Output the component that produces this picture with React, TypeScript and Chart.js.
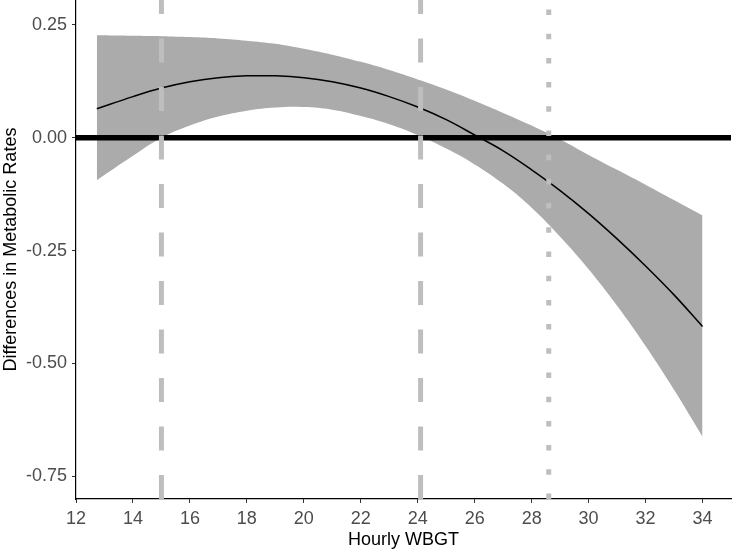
import React, { useEffect, useRef } from 'react';
import { Chart, registerables } from 'chart.js';

Chart.register(...registerables);

// Hourly WBGT values where the fitted curve and its confidence band were read
const wbgt = [12.73, 14, 15, 16, 17, 18, 19, 20, 21, 22, 23, 24, 25, 26, 27, 28, 29, 30, 31, 32, 33, 34];
// Fitted difference in metabolic rates
const fit = [0.064, 0.091, 0.110, 0.124, 0.133, 0.137, 0.137, 0.133, 0.124, 0.110, 0.091, 0.068, 0.040, 0.006, -0.029, -0.071, -0.117, -0.168, -0.224, -0.284, -0.348, -0.418];
// Upper confidence limit
const upper = [0.227, 0.226, 0.225, 0.223, 0.220, 0.215, 0.208, 0.197, 0.184, 0.168, 0.150, 0.129, 0.107, 0.082, 0.055, 0.027, -0.004, -0.038, -0.071, -0.104, -0.138, -0.172];
// Lower confidence limit
const lower = [-0.094, -0.040, 0.000, 0.027, 0.047, 0.060, 0.067, 0.068, 0.062, 0.048, 0.030, 0.006, -0.024, -0.059, -0.102, -0.155, -0.219, -0.291, -0.372, -0.461, -0.558, -0.662];

// Reference lines
const dashedLines = [15, 24.1];
const dottedLines = [28.6];
const zeroLine = 0;

// Axes
const xTicks = [12, 14, 16, 18, 20, 22, 24, 26, 28, 30, 32, 34];
const yTicks = [-0.75, -0.5, -0.25, 0, 0.25];
const xMin = 12;
const xMax = 35;
const yMin = -0.8;
const yMax = 0.305;

const FONT = '"Liberation Sans", Arial, Helvetica, sans-serif';

export default function App() {
  const canvasRef = useRef<HTMLCanvasElement | null>(null);

  useEffect(() => {
    const canvas = canvasRef.current;
    if (!canvas) return;
    const pts = (ys: number[]) => wbgt.map((x, i) => ({ x, y: ys[i] }));

    const vline = (v: number, dash: number[]) => ({
      type: 'line' as const,
      data: [{ x: v, y: yMin }, { x: v, y: yMax }],
      borderColor: '#bebebe',
      borderWidth: 5,
      borderDash: dash,
      borderCapStyle: 'butt' as const,
      pointRadius: 0,
      fill: false,
      tension: 0,
    });

    const chart = new Chart(canvas, {
      type: 'line',
      data: {
        datasets: [
          ...dashedLines.map((v) => vline(v, [24, 24.5])),
          ...dottedLines.map((v) => vline(v, [5.5, 18.7])),
          {
            data: [{ x: xMin, y: zeroLine }, { x: xMax, y: zeroLine }],
            borderColor: '#000000',
            borderWidth: 5.5,
            pointRadius: 0,
            fill: false,
            tension: 0,
          },
          {
            data: pts(fit),
            borderColor: '#000000',
            borderWidth: 1.5,
            pointRadius: 0,
            fill: false,
            tension: 0.4,
          },
          {
            data: pts(upper),
            borderColor: 'rgba(0,0,0,0)',
            borderWidth: 0,
            backgroundColor: '#ababab',
            pointRadius: 0,
            fill: '+1',
            tension: 0.4,
          },
          {
            data: pts(lower),
            borderColor: 'rgba(0,0,0,0)',
            borderWidth: 0,
            pointRadius: 0,
            fill: false,
            tension: 0.4,
          },
        ] as any,
      },
      options: {
        animation: false,
        responsive: false,
        maintainAspectRatio: false,
        parsing: false as any,
        layout: { padding: { top: 0, right: 3, bottom: 0, left: 0 } },
        plugins: {
          legend: { display: false },
          tooltip: { enabled: false },
        },
        scales: {
          x: {
            type: 'linear',
            min: xMin,
            max: xMax,
            afterBuildTicks: (scale: any) => {
              scale.ticks = xTicks.map((v) => ({ value: v }));
            },
            afterFit: (scale: any) => {
              scale.height = 54;
              scale.paddingLeft = 0;
              scale.paddingRight = 0;
            },
            ticks: {
              color: '#4d4d4d',
              font: { family: FONT, size: 18 },
              padding: 5,
              maxRotation: 0,
              autoSkip: false,
              callback: (v: any) => String(v),
            },
            grid: {
              drawOnChartArea: false,
              drawTicks: true,
              tickLength: 4,
              color: '#333333',
            },
            border: { display: true, color: '#000000', width: 1.2 },
            title: {
              display: true,
              text: 'Hourly WBGT',
              color: '#000000',
              font: { family: FONT, size: 18 },
              padding: { top: 0, bottom: 2 },
            },
          },
          y: {
            type: 'linear',
            min: yMin,
            max: yMax,
            afterBuildTicks: (scale: any) => {
              scale.ticks = yTicks.map((v) => ({ value: v }));
            },
            afterFit: (scale: any) => {
              scale.width = 76;
              scale.paddingTop = 0;
              scale.paddingBottom = 0;
            },
            ticks: {
              color: '#4d4d4d',
              font: { family: FONT, size: 18 },
              padding: 5,
              autoSkip: false,
              callback: (v: any) => Number(v).toFixed(2),
            },
            grid: {
              drawOnChartArea: false,
              drawTicks: true,
              tickLength: 4,
              color: '#333333',
            },
            border: { display: true, color: '#000000', width: 1.2 },
            title: {
              display: true,
              text: 'Differences in Metabolic Rates',
              color: '#000000',
              font: { family: FONT, size: 18 },
              padding: { top: 0, bottom: 0 },
            },
          },
        },
      } as any,
    });

    return () => {
      chart.destroy();
    };
  }, []);

  return (
    <div style={{ position: 'absolute', left: 0, top: 0, width: 734, height: 553, background: '#ffffff' }}>
      <canvas ref={canvasRef} width={734} height={553} style={{ display: 'block', width: 734, height: 553 }} />
    </div>
  );
}
